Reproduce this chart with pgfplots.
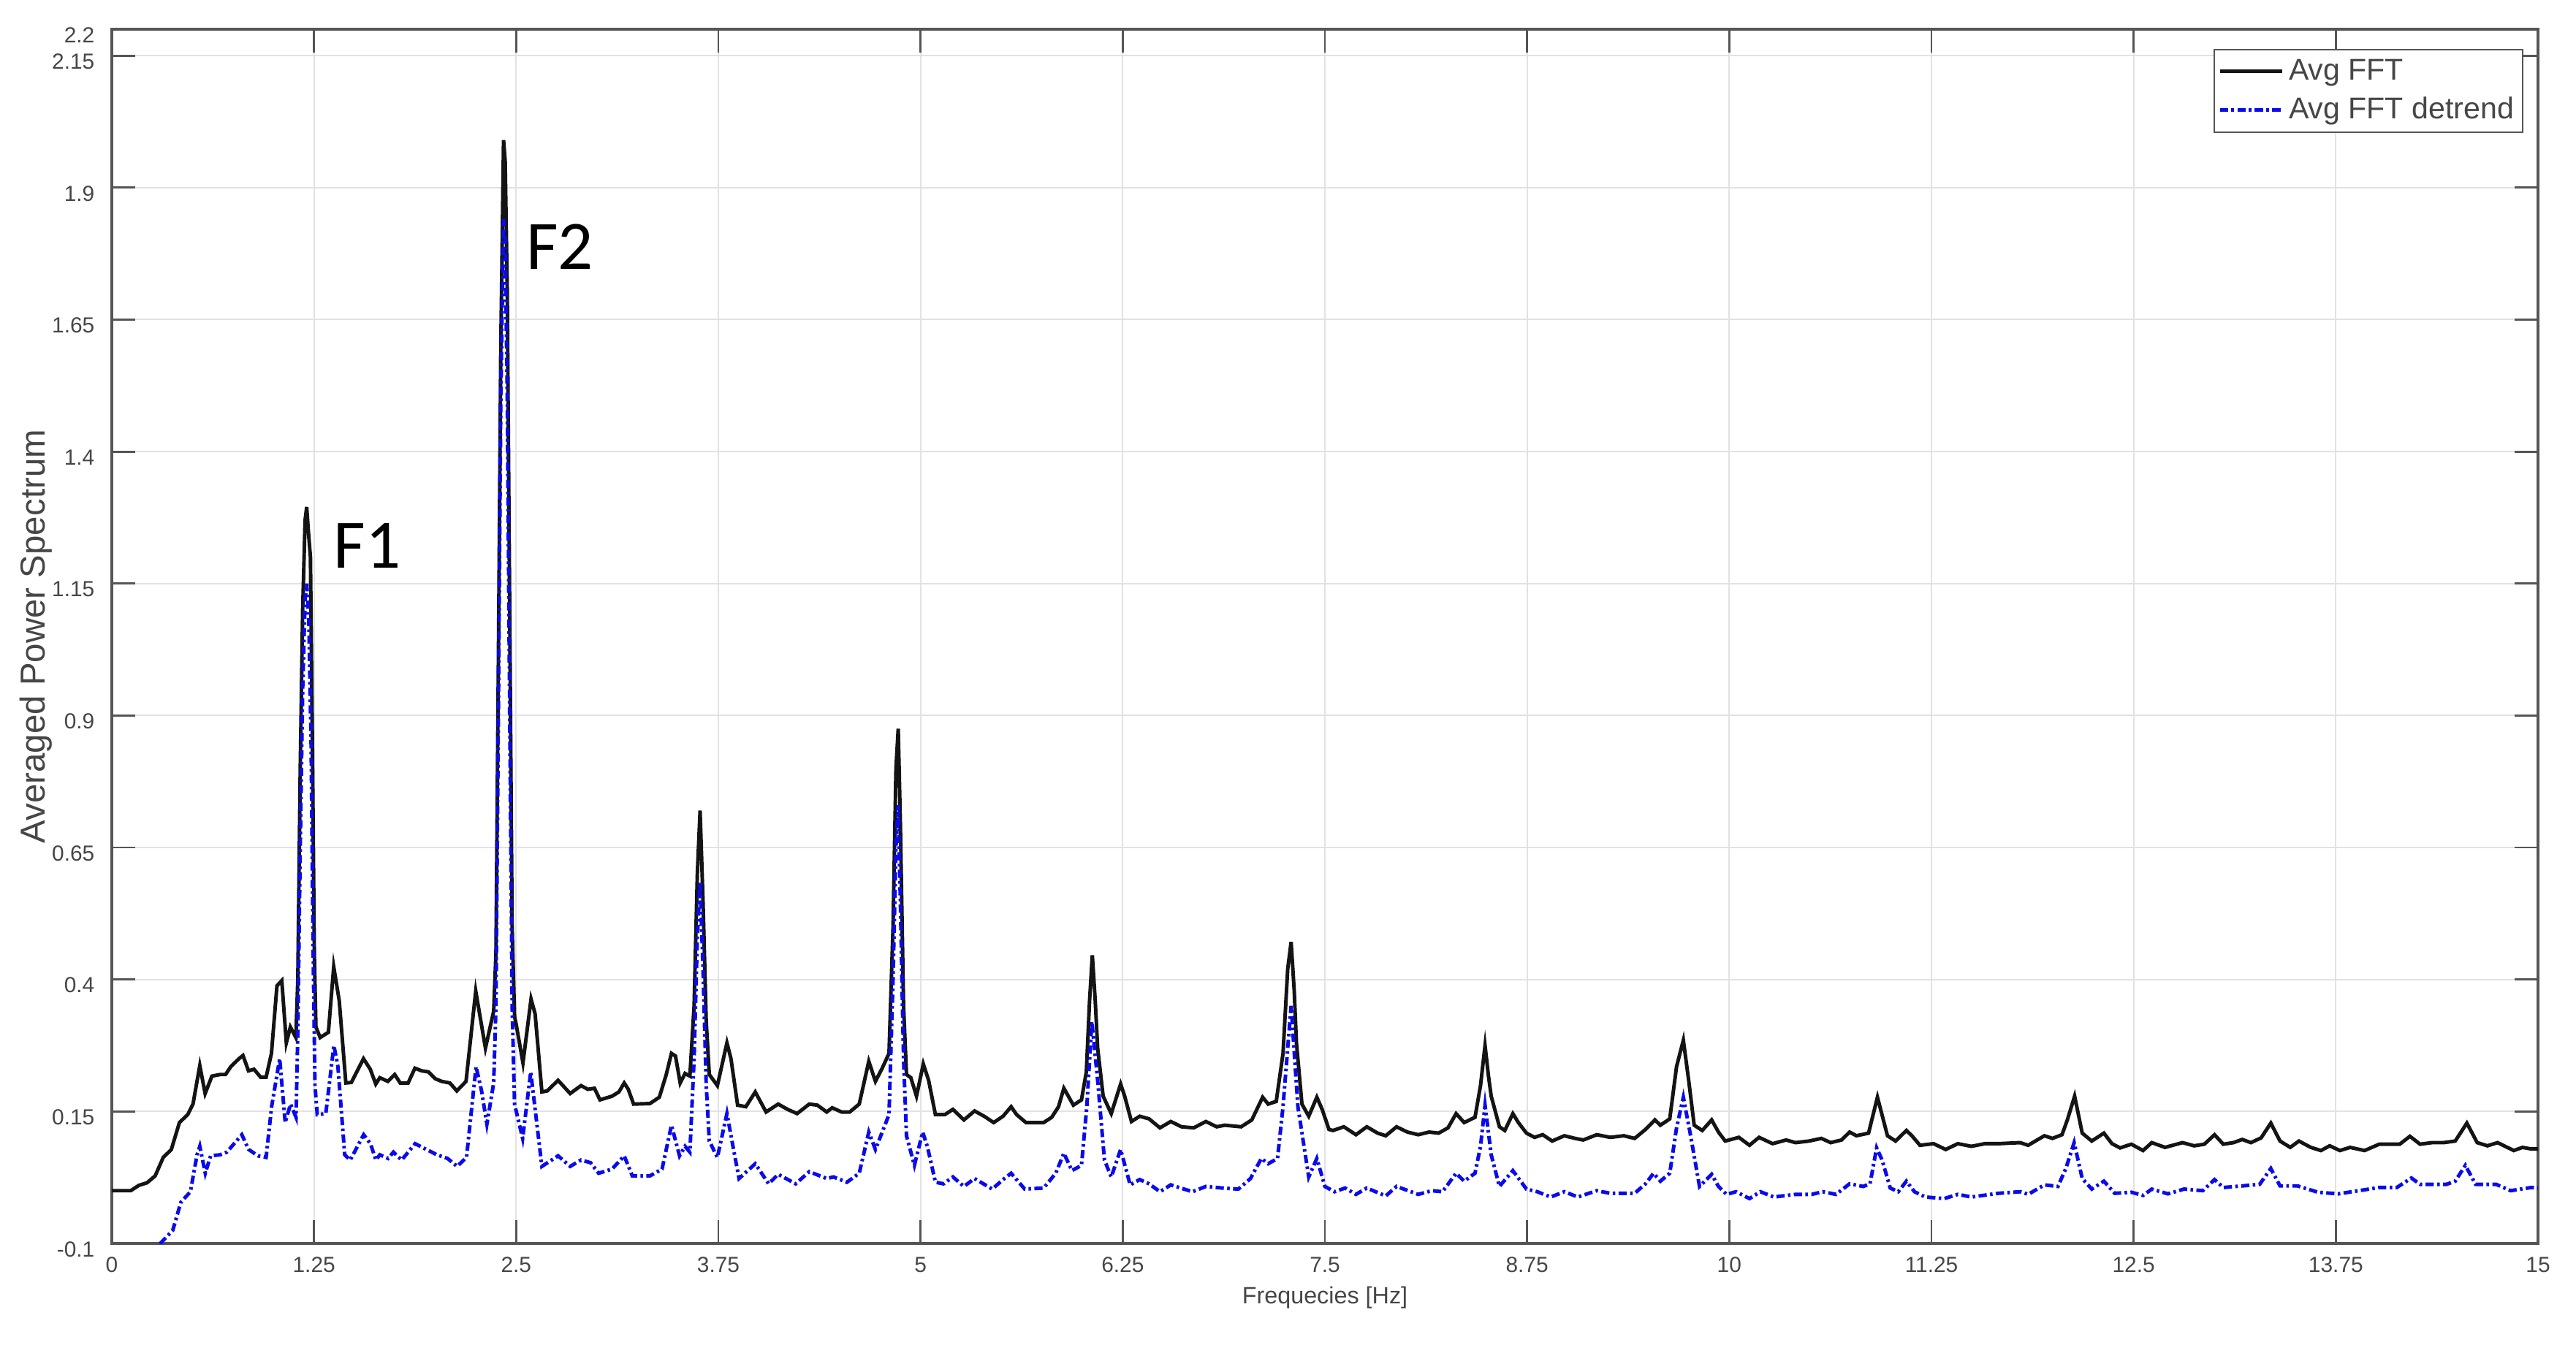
\documentclass[border=0pt]{standalone}
\usepackage{fontspec}
\setmainfont{Liberation Sans}
\newfontfamily\calibri{Carlito}
\usepackage{pgfplots}
\pgfplotsset{compat=1.18}
\definecolor{axgray}{RGB}{85,85,85}
\definecolor{txtgray}{RGB}{70,70,70}
\definecolor{gridgray}{RGB}{226,226,226}
\definecolor{fftblack}{RGB}{20,20,20}
\definecolor{fftblue}{RGB}{10,10,235}
\begin{document}
\begin{tikzpicture}
\path[use as bounding box] (-1.53cm,-1.38cm) rectangle (33.72cm,17.02cm);
\begin{axis}[
  at={(0,0)}, anchor=south west,
  scale only axis, width=33.2cm, height=16.62cm,
  xmin=0, xmax=15, ymin=-0.1, ymax=2.2,
  xtick={0,1.25,2.5,3.75,5,6.25,7.5,8.75,10,11.25,12.5,13.75,15},
  xticklabels={0,1.25,2.5,3.75,5,6.25,7.5,8.75,10,11.25,12.5,13.75,15},
  ytick={-0.1,0.15,0.4,0.65,0.9,1.15,1.4,1.65,1.9,2.15,2.2},
  yticklabels={-0.1,0.15,0.4,0.65,0.9,1.15,1.4,1.65,1.9,2.15,2.2},
  grid=major, major grid style={gridgray, line width=0.6pt},
  tick align=inside, major tick length=0.32cm,
  tick style={axgray, line width=0.8pt},
  axis line style={axgray, line width=0.9pt},
  tick label style={font=\fontsize{8.5}{10}\selectfont, text=txtgray},
  xticklabel style={inner sep=0pt, yshift=-0.18cm},
  yticklabel style={inner sep=0pt, xshift=-0.23cm, yshift=-0.08cm},
  xlabel={Frequecies [Hz]},
  xlabel style={at={(axis description cs:0.5,0)}, anchor=center, yshift=-0.74cm, font=\fontsize{9.2}{11}\selectfont, text=txtgray},
  ylabel={Averaged Power Spectrum},
  ylabel style={at={(axis description cs:-0.0313,0.5)}, anchor=center, font=\fontsize{13.5}{15}\selectfont, text=txtgray},
  legend style={at={(rel axis cs:1,1)}, anchor=north east, xshift=-0.2cm, yshift=-0.27cm,
    font=\fontsize{11.7}{13}\selectfont, text=txtgray, draw=axgray, line width=0.6pt, fill=white,
    inner xsep=0.05cm, inner ysep=0.06cm, row sep=0.04cm},
  legend cell align=left,
  legend image code/.code={\draw[#1] (0cm,0cm) -- (0.85cm,0cm);},
]
\addplot[fftblack, line width=1.4pt] table {
0 0.0
0.117 0.0
0.167 0.01
0.218 0.015
0.268 0.028
0.318 0.063
0.368 0.078
0.418 0.129
0.469 0.144
0.502 0.164
0.544 0.237
0.577 0.184
0.619 0.217
0.669 0.22
0.703 0.22
0.736 0.235
0.786 0.25
0.811 0.256
0.845 0.227
0.879 0.23
0.92 0.215
0.954 0.215
0.987 0.26
1.021 0.388
1.051 0.398
1.079 0.28
1.104 0.31
1.138 0.29
1.15 0.4
1.165 0.8
1.18 1.1
1.195 1.27
1.205 1.295
1.215 1.25
1.228 1.2
1.24 0.85
1.252 0.45
1.262 0.31
1.288 0.29
1.339 0.30
1.372 0.424
1.406 0.36
1.447 0.204
1.481 0.205
1.556 0.25
1.598 0.23
1.632 0.202
1.657 0.214
1.707 0.207
1.749 0.22
1.783 0.204
1.832 0.204
1.874 0.232
1.916 0.227
1.958 0.225
2.0 0.212
2.04 0.207
2.09 0.204
2.133 0.189
2.19 0.207
2.25 0.378
2.31 0.27
2.361 0.34
2.375 0.45
2.39 1.0
2.405 1.6
2.422 1.99
2.432 1.95
2.445 1.7
2.46 1.1
2.475 0.5
2.49 0.33
2.5 0.315
2.542 0.242
2.592 0.363
2.617 0.335
2.659 0.187
2.692 0.189
2.759 0.209
2.834 0.184
2.901 0.199
2.943 0.192
2.984 0.194
3.018 0.172
3.093 0.179
3.135 0.187
3.168 0.204
3.193 0.192
3.226 0.164
3.327 0.165
3.385 0.177
3.427 0.219
3.46 0.26
3.485 0.255
3.514 0.204
3.544 0.222
3.574 0.217
3.60 0.35
3.62 0.6
3.637 0.72
3.655 0.55
3.675 0.32
3.694 0.22
3.744 0.199
3.803 0.28
3.828 0.25
3.869 0.162
3.92 0.159
3.978 0.187
4.045 0.149
4.12 0.164
4.178 0.154
4.237 0.146
4.312 0.164
4.362 0.162
4.42 0.149
4.454 0.157
4.512 0.149
4.562 0.149
4.621 0.164
4.68 0.245
4.721 0.207
4.763 0.232
4.805 0.26
4.83 0.5
4.848 0.8
4.862 0.875
4.875 0.7
4.895 0.35
4.913 0.22
4.94 0.214
4.975 0.179
5.017 0.24
5.05 0.209
5.092 0.144
5.15 0.144
5.2 0.154
5.268 0.134
5.334 0.151
5.393 0.141
5.452 0.129
5.51 0.141
5.56 0.159
5.594 0.144
5.652 0.129
5.761 0.129
5.811 0.139
5.853 0.159
5.886 0.194
5.945 0.162
5.995 0.172
6.025 0.225
6.045 0.36
6.062 0.446
6.08 0.36
6.095 0.27
6.129 0.179
6.179 0.146
6.237 0.202
6.262 0.179
6.304 0.131
6.355 0.141
6.413 0.136
6.48 0.119
6.547 0.131
6.614 0.121
6.689 0.119
6.764 0.131
6.831 0.121
6.881 0.124
6.982 0.121
7.048 0.134
7.115 0.177
7.149 0.164
7.199 0.169
7.241 0.26
7.27 0.42
7.291 0.471
7.31 0.38
7.324 0.28
7.358 0.164
7.4 0.141
7.45 0.177
7.483 0.154
7.525 0.116
7.55 0.114
7.617 0.121
7.692 0.106
7.759 0.121
7.826 0.109
7.876 0.104
7.943 0.121
8.01 0.111
8.077 0.106
8.144 0.111
8.203 0.109
8.261 0.119
8.311 0.146
8.361 0.129
8.428 0.139
8.462 0.199
8.49 0.275
8.51 0.22
8.528 0.179
8.579 0.121
8.612 0.114
8.662 0.146
8.696 0.129
8.746 0.109
8.796 0.101
8.846 0.106
8.905 0.094
8.98 0.104
9.047 0.099
9.097 0.096
9.181 0.106
9.264 0.101
9.348 0.104
9.415 0.099
9.482 0.116
9.54 0.134
9.574 0.124
9.632 0.136
9.674 0.235
9.716 0.285
9.749 0.209
9.783 0.124
9.833 0.114
9.891 0.134
9.933 0.111
9.975 0.094
10.059 0.101
10.125 0.086
10.184 0.101
10.268 0.089
10.351 0.096
10.41 0.091
10.493 0.094
10.569 0.099
10.627 0.091
10.694 0.096
10.744 0.111
10.786 0.104
10.861 0.109
10.916 0.177
10.978 0.104
11.028 0.094
11.095 0.114
11.129 0.104
11.179 0.086
11.263 0.089
11.338 0.078
11.413 0.089
11.497 0.084
11.58 0.089
11.664 0.089
11.798 0.091
11.848 0.086
11.948 0.104
11.998 0.099
12.057 0.106
12.09 0.134
12.135 0.179
12.182 0.109
12.241 0.094
12.316 0.109
12.366 0.089
12.416 0.081
12.486 0.088
12.558 0.076
12.612 0.091
12.694 0.082
12.802 0.091
12.874 0.085
12.937 0.088
13.0 0.106
13.054 0.088
13.117 0.091
13.171 0.097
13.225 0.091
13.288 0.1
13.348 0.128
13.405 0.094
13.468 0.082
13.522 0.094
13.595 0.082
13.658 0.076
13.712 0.085
13.775 0.076
13.838 0.082
13.928 0.076
14.018 0.088
14.145 0.088
14.208 0.103
14.271 0.088
14.344 0.091
14.416 0.091
14.488 0.094
14.56 0.128
14.624 0.091
14.687 0.085
14.75 0.091
14.85 0.076
14.904 0.082
14.958 0.079
15.0 0.079
};
\addlegendentry{Avg FFT}
\addplot[fftblue, line width=1.4pt, dash pattern=on 3.2pt off 1.3pt on 1pt off 1.3pt] table {
0.25 -0.13
0.30 -0.1
0.377 -0.075
0.427 -0.022
0.486 -0.002
0.527 0.068
0.544 0.084
0.578 0.033
0.611 0.066
0.67 0.068
0.711 0.073
0.804 0.106
0.846 0.078
0.904 0.066
0.954 0.063
0.988 0.159
1.038 0.25
1.072 0.129
1.105 0.164
1.139 0.139
1.15 0.3
1.165 0.65
1.18 0.95
1.195 1.12
1.205 1.15
1.218 1.08
1.232 0.85
1.245 0.45
1.256 0.2
1.27 0.144
1.323 0.146
1.373 0.275
1.398 0.235
1.44 0.068
1.474 0.058
1.557 0.106
1.599 0.089
1.633 0.058
1.657 0.068
1.708 0.061
1.741 0.073
1.792 0.058
1.875 0.089
1.959 0.076
2.01 0.068
2.076 0.061
2.135 0.046
2.193 0.063
2.252 0.235
2.286 0.189
2.319 0.126
2.361 0.204
2.375 0.35
2.39 0.9
2.405 1.5
2.422 1.84
2.432 1.8
2.445 1.5
2.46 0.9
2.475 0.35
2.49 0.164
2.54 0.099
2.59 0.225
2.659 0.046
2.759 0.066
2.834 0.046
2.901 0.058
2.96 0.053
3.01 0.033
3.093 0.041
3.168 0.066
3.218 0.028
3.327 0.028
3.402 0.041
3.46 0.124
3.51 0.066
3.544 0.084
3.574 0.073
3.60 0.25
3.62 0.48
3.637 0.585
3.655 0.42
3.675 0.2
3.694 0.094
3.744 0.063
3.803 0.146
3.844 0.078
3.878 0.023
3.978 0.051
4.061 0.013
4.12 0.031
4.228 0.013
4.312 0.036
4.42 0.023
4.462 0.026
4.545 0.016
4.621 0.033
4.68 0.111
4.721 0.078
4.805 0.144
4.83 0.4
4.848 0.65
4.862 0.73
4.875 0.55
4.895 0.25
4.913 0.104
4.962 0.048
5.013 0.111
5.042 0.084
5.092 0.016
5.142 0.013
5.2 0.026
5.268 0.008
5.334 0.023
5.443 0.003
5.51 0.021
5.56 0.033
5.644 0.003
5.761 0.005
5.836 0.033
5.886 0.071
5.936 0.038
5.995 0.048
6.028 0.159
6.059 0.32
6.095 0.209
6.137 0.058
6.179 0.026
6.237 0.078
6.296 0.011
6.355 0.021
6.413 0.013
6.48 -0.002
6.547 0.011
6.681 -0.002
6.764 0.008
6.865 0.005
6.965 0.003
7.04 0.023
7.107 0.061
7.149 0.051
7.207 0.061
7.241 0.159
7.291 0.35
7.333 0.159
7.4 0.026
7.45 0.061
7.5 0.008
7.559 -0.002
7.625 0.005
7.692 -0.007
7.759 0.005
7.876 -0.01
7.943 0.008
8.077 -0.007
8.16 0.0
8.227 -0.002
8.311 0.033
8.361 0.018
8.428 0.033
8.462 0.084
8.49 0.162
8.528 0.068
8.579 0.008
8.662 0.038
8.746 0.003
8.813 -0.002
8.896 -0.012
8.98 -0.002
9.064 -0.012
9.181 0.0
9.264 -0.005
9.415 -0.005
9.482 0.013
9.532 0.033
9.574 0.018
9.632 0.033
9.674 0.119
9.716 0.177
9.758 0.109
9.816 0.008
9.891 0.031
9.933 0.008
9.983 -0.007
10.042 -0.002
10.125 -0.015
10.192 -0.002
10.276 -0.012
10.41 -0.007
10.51 -0.007
10.577 -0.002
10.66 -0.007
10.744 0.013
10.828 0.008
10.87 0.013
10.911 0.081
10.945 0.058
10.995 0.005
11.045 -0.002
11.095 0.018
11.145 -0.002
11.212 -0.012
11.329 -0.015
11.413 -0.007
11.497 -0.012
11.664 -0.005
11.798 -0.002
11.848 -0.007
11.948 0.011
12.032 0.008
12.082 0.043
12.132 0.091
12.182 0.023
12.241 0.003
12.316 0.018
12.383 -0.005
12.486 -0.003
12.558 -0.009
12.612 0.003
12.712 -0.006
12.811 0.003
12.928 0.0
13.0 0.021
13.054 0.006
13.171 0.009
13.279 0.012
13.348 0.042
13.405 0.009
13.513 0.009
13.64 -0.003
13.766 -0.006
13.892 0.0
14.018 0.006
14.127 0.006
14.217 0.024
14.271 0.012
14.434 0.012
14.488 0.018
14.551 0.048
14.614 0.012
14.741 0.012
14.831 0.0
14.958 0.006
15.0 0.005
};
\addlegendentry{Avg FFT detrend}
\node[anchor=west, inner sep=0pt, font=\calibri\fontsize{27}{30}\selectfont] at (axis cs:1.37,1.222) {F1};
\node[anchor=west, inner sep=0pt, font=\calibri\fontsize{27}{30}\selectfont] at (axis cs:2.56,1.788) {F2};
\end{axis}
\end{tikzpicture}
\end{document}
